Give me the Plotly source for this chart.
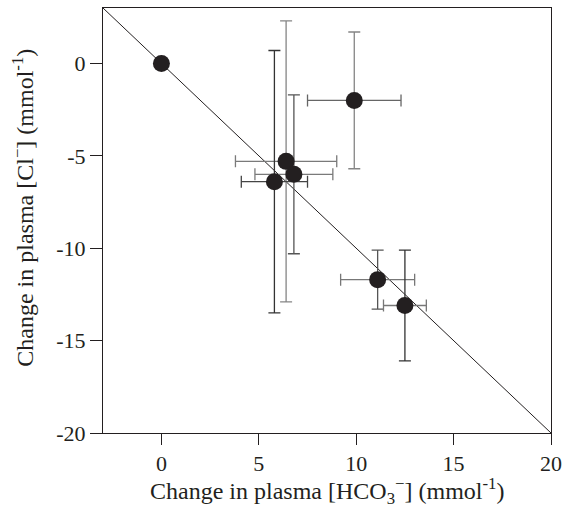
import plotly.graph_objects as go

# Change in plasma bicarbonate vs chloride (mmol l-1), mean ± s.e.m.
hco3_change = [0.0, 9.9, 6.4, 6.8, 5.8, 11.1, 12.5]
cl_change = [0.0, -2.0, -5.3, -6.0, -6.4, -11.7, -13.1]
hco3_err = [0.0, 2.4, 2.6, 2.0, 1.7, 1.9, 1.1]
cl_err = [0.0, 3.7, 7.6, 4.3, 7.1, 1.6, 3.0]

# Error bar shades per point (horizontal, vertical)
err_x_colors = ["#555555", "#666666", "#7a7a7a", "#7a7a7a", "#444444", "#777777", "#777777"]
err_y_colors = ["#555555", "#858585", "#858585", "#555555", "#333333", "#555555", "#333333"]

# Line of equivalence (1:1 exchange), y = -x
line_x = [-3, 20]
line_y = [-v for v in line_x]

x_ticks = [0, 5, 10, 15, 20]
x_ticktext = ["0", "5", "10", "15", "20"]
y_ticks = [0, -5, -10, -15, -20]
y_ticktext = ["0", "-5", "-10", "-15", "-20"]

x_title = "Change in plasma [HCO<sub>3</sub><sup>−</sup>] (mmol<sup>-1</sup>)"
y_title = "Change in plasma [Cl<sup>−</sup>] (mmol<sup>-1</sup>)"

ink = "#231f20"
fig = go.Figure()

fig.add_trace(go.Scatter(
    x=line_x, y=line_y, mode="lines",
    line=dict(color=ink, width=1),
    hoverinfo="skip", showlegend=False,
))

# error bars, one trace per point so each can carry its own shade
for i in range(len(hco3_change)):
    if hco3_err[i] == 0 and cl_err[i] == 0:
        continue
    fig.add_trace(go.Scatter(
        x=[hco3_change[i]], y=[cl_change[i]], mode="markers",
        marker=dict(size=1, color="rgba(0,0,0,0)"),
        error_x=dict(type="data", array=[hco3_err[i]], visible=True,
                     color=err_x_colors[i], thickness=1.3, width=6),
        error_y=dict(type="data", array=[cl_err[i]], visible=True,
                     color=err_y_colors[i], thickness=1.3, width=6),
        hoverinfo="skip", showlegend=False,
    ))

fig.add_trace(go.Scatter(
    x=hco3_change, y=cl_change, mode="markers",
    marker=dict(size=17, color=ink, line=dict(width=0)),
    showlegend=False,
))

font_family = "Liberation Serif, Times New Roman, serif"

fig.update_layout(
    width=563, height=507,
    margin=dict(l=103, r=12, t=8, b=74),
    paper_bgcolor="white", plot_bgcolor="white",
    font=dict(family=font_family, size=22, color=ink),
    xaxis=dict(
        range=[-3, 20], tickvals=x_ticks, ticktext=x_ticktext,
        ticks="outside", ticklen=11, tickcolor=ink, tickwidth=1,
        showgrid=False, zeroline=False, automargin=False,
        showline=True, linecolor=ink, linewidth=1, mirror=True,
        tickfont=dict(size=22),
    ),
    yaxis=dict(
        range=[-20, 3], tickvals=y_ticks, ticktext=y_ticktext,
        ticks="outside", ticklen=12, tickcolor=ink, tickwidth=1,
        showgrid=False, zeroline=False, automargin=False,
        showline=True, linecolor=ink, linewidth=1, mirror=True,
        tickfont=dict(size=22),
    ),
    annotations=[
        dict(text=x_title, xref="paper", yref="paper", x=0.5, y=0,
             xanchor="center", yanchor="middle", yshift=-58,
             showarrow=False, font=dict(size=24)),
        dict(text=y_title, xref="paper", yref="paper", x=0, y=0.53,
             xanchor="center", yanchor="middle", xshift=-80, textangle=-90,
             showarrow=False, font=dict(size=24)),
    ],
)

fig.write_html("out.html")
